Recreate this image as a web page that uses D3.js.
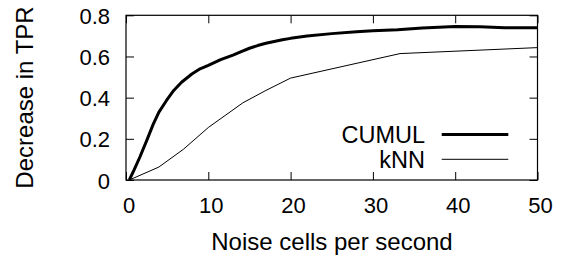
<!DOCTYPE html>
<html>
<head>
<meta charset="utf-8">
<script src="https://cdn.jsdelivr.net/npm/d3@7"></script>
<style>
  body { margin: 0; background: #fff; }
  text { font-family: "Liberation Sans", Arial, Helvetica, sans-serif; fill: #000; }
</style>
</head>
<body>
<div id="chart"></div>
<script>
// data
const seriesNames = ["CUMUL", "kNN"];
const cumulX = [0.4, 1, 1.7, 2.5, 3.3, 4, 4.9, 5.8, 6.75, 8, 9, 10, 11.5, 13, 14, 15, 16, 17, 18, 19, 20, 22, 25, 28, 30, 33, 36, 40, 43, 46, 50];
const cumulY = [0, 0.05, 0.113, 0.19, 0.27, 0.33, 0.385, 0.435, 0.475, 0.515, 0.54, 0.557, 0.585, 0.607, 0.624, 0.64, 0.653, 0.664, 0.673, 0.681, 0.688, 0.699, 0.711, 0.72, 0.725, 0.73, 0.738, 0.745, 0.744, 0.74, 0.74];
const knnX = [0.4, 4, 7, 10, 14.2, 17, 20, 33.3, 50];
const knnY = [0, 0.063, 0.15, 0.255, 0.375, 0.435, 0.495, 0.614, 0.643];
const xTicks = [0, 10, 20, 30, 40, 50];
const yTicks = [0, 0.2, 0.4, 0.6, 0.8];

const W = 561, H = 257;
const plotL = 126, plotR = 537.5, plotT = 15.3, plotB = 180;

const svg = d3.select("#chart")
  .append("svg")
  .attr("width", W)
  .attr("height", H);

const xScale = d3.scaleLinear().domain([0, 50]).range([plotL, plotR]);
const yScale = d3.scaleLinear().domain([0, 0.8]).range([plotB, plotT]);

// ticks on all four sides, gnuplot style
const tickLen = 8;

svg.append("g")
  .attr("transform", `translate(0, ${plotB})`)
  .call(d3.axisTop(xScale).tickValues(xTicks).tickSize(tickLen).tickFormat(""));
svg.append("g")
  .attr("transform", `translate(0, ${plotT})`)
  .call(d3.axisBottom(xScale).tickValues(xTicks).tickSize(tickLen).tickFormat(""));
svg.append("g")
  .attr("transform", `translate(${plotL}, 0)`)
  .call(d3.axisRight(yScale).tickValues(yTicks).tickSize(tickLen).tickFormat(""));
svg.append("g")
  .attr("transform", `translate(${plotR}, 0)`)
  .call(d3.axisLeft(yScale).tickValues(yTicks).tickSize(tickLen).tickFormat(""));

svg.selectAll(".domain").remove();
svg.selectAll(".tick line").attr("stroke", "#000").attr("stroke-width", 1);

svg.append("rect")
  .attr("x", plotL)
  .attr("y", plotT)
  .attr("width", plotR - plotL)
  .attr("height", plotB - plotT)
  .attr("fill", "none")
  .attr("stroke", "#000")
  .attr("stroke-width", 1.2);

// tick labels
svg.selectAll(".xlab")
  .data(xTicks)
  .enter()
  .append("text")
  .attr("x", d => xScale(d) + 3)
  .attr("y", 212.5)
  .attr("text-anchor", "middle")
  .style("font-size", "22px")
  .text(d => d);

svg.selectAll(".ylab")
  .data(yTicks)
  .enter()
  .append("text")
  .attr("x", 110)
  .attr("y", d => yScale(d) + 8.5)
  .attr("text-anchor", "end")
  .style("font-size", "22px")
  .text(d => d);

// axis titles
svg.append("text")
  .attr("x", 332)
  .attr("y", 250)
  .attr("text-anchor", "middle")
  .style("font-size", "24px")
  .text("Noise cells per second");

svg.append("text")
  .attr("transform", "translate(33, 97.5) rotate(-90)")
  .attr("text-anchor", "middle")
  .style("font-size", "24px")
  .text("Decrease in TPR");

// lines
const line = d3.line()
  .x(d => xScale(d[0]))
  .y(d => yScale(d[1]));

const series = [
  { name: seriesNames[0], pts: d3.zip(cumulX, cumulY), width: 3 },
  { name: seriesNames[1], pts: d3.zip(knnX, knnY), width: 1 }
];

svg.selectAll(".series")
  .data(series)
  .enter()
  .append("path")
  .attr("d", d => line(d.pts))
  .attr("fill", "none")
  .attr("stroke", "#000")
  .attr("stroke-width", d => d.width)
  .attr("stroke-linejoin", "round");

// legend
const legend = svg.append("g");
series.forEach(function (s, i) {
  const ly = 134.5 + i * 24.8;
  legend.append("text")
    .attr("x", 425)
    .attr("y", ly + 8.5)
    .attr("text-anchor", "end")
    .style("font-size", "23.5px")
    .text(s.name);
  legend.append("line")
    .attr("x1", 441.7)
    .attr("x2", 508.3)
    .attr("y1", ly)
    .attr("y2", ly)
    .attr("stroke", "#000")
    .attr("stroke-width", s.width);
});
</script>
</body>
</html>
